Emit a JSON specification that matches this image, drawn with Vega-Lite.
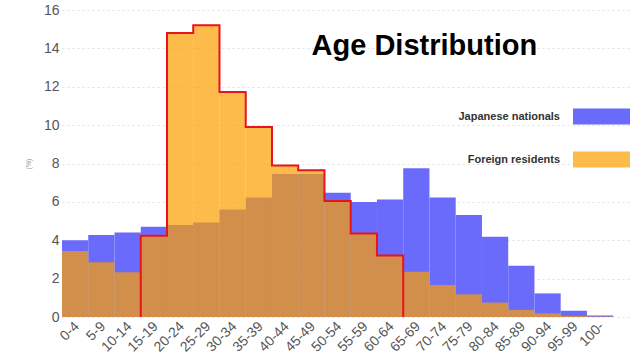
{
  "$schema": "https://vega.github.io/schema/vega-lite/v6.json",
  "width": 568,
  "height": 307,
  "autosize": "none",
  "padding": {"left": 62, "top": 10, "right": 10, "bottom": 43},
  "background": "white",
  "config": {"view": {"stroke": null}, "font": "Liberation Sans"},
  "datasets": {
    "dist": [
      {"age": "0-4", "group": "Japanese nationals", "pct": 4.0},
      {"age": "5-9", "group": "Japanese nationals", "pct": 4.28},
      {"age": "10-14", "group": "Japanese nationals", "pct": 4.4},
      {"age": "15-19", "group": "Japanese nationals", "pct": 4.71},
      {"age": "20-24", "group": "Japanese nationals", "pct": 4.79},
      {"age": "25-29", "group": "Japanese nationals", "pct": 4.93},
      {"age": "30-34", "group": "Japanese nationals", "pct": 5.6},
      {"age": "35-39", "group": "Japanese nationals", "pct": 6.23},
      {"age": "40-44", "group": "Japanese nationals", "pct": 7.45},
      {"age": "45-49", "group": "Japanese nationals", "pct": 7.45},
      {"age": "50-54", "group": "Japanese nationals", "pct": 6.47},
      {"age": "55-59", "group": "Japanese nationals", "pct": 6.0},
      {"age": "60-64", "group": "Japanese nationals", "pct": 6.13},
      {"age": "65-69", "group": "Japanese nationals", "pct": 7.75},
      {"age": "70-74", "group": "Japanese nationals", "pct": 6.23},
      {"age": "75-79", "group": "Japanese nationals", "pct": 5.31},
      {"age": "80-84", "group": "Japanese nationals", "pct": 4.18},
      {"age": "85-89", "group": "Japanese nationals", "pct": 2.67},
      {"age": "90-94", "group": "Japanese nationals", "pct": 1.23},
      {"age": "95-99", "group": "Japanese nationals", "pct": 0.33},
      {"age": "100-", "group": "Japanese nationals", "pct": 0.08},
      {"age": "0-4", "group": "Foreign residents", "pct": 3.44},
      {"age": "5-9", "group": "Foreign residents", "pct": 2.85},
      {"age": "10-14", "group": "Foreign residents", "pct": 2.33},
      {"age": "15-19", "group": "Foreign residents", "pct": 4.23},
      {"age": "20-24", "group": "Foreign residents", "pct": 14.8},
      {"age": "25-29", "group": "Foreign residents", "pct": 15.2},
      {"age": "30-34", "group": "Foreign residents", "pct": 11.73},
      {"age": "35-39", "group": "Foreign residents", "pct": 9.9},
      {"age": "40-44", "group": "Foreign residents", "pct": 7.9},
      {"age": "45-49", "group": "Foreign residents", "pct": 7.65},
      {"age": "50-54", "group": "Foreign residents", "pct": 6.04},
      {"age": "55-59", "group": "Foreign residents", "pct": 4.35},
      {"age": "60-64", "group": "Foreign residents", "pct": 3.2},
      {"age": "65-69", "group": "Foreign residents", "pct": 2.36},
      {"age": "70-74", "group": "Foreign residents", "pct": 1.67},
      {"age": "75-79", "group": "Foreign residents", "pct": 1.18},
      {"age": "80-84", "group": "Foreign residents", "pct": 0.75},
      {"age": "85-89", "group": "Foreign residents", "pct": 0.37},
      {"age": "90-94", "group": "Foreign residents", "pct": 0.19},
      {"age": "95-99", "group": "Foreign residents", "pct": 0.05},
      {"age": "100-", "group": "Foreign residents", "pct": 0.02}
    ],
    "outline": [
      {"age": "15-19", "pct": 0, "k": 0},
      {"age": "15-19", "pct": 4.23, "k": 1},
      {"age": "20-24", "pct": 14.8, "k": 2},
      {"age": "25-29", "pct": 15.2, "k": 3},
      {"age": "30-34", "pct": 11.73, "k": 4},
      {"age": "35-39", "pct": 9.9, "k": 5},
      {"age": "40-44", "pct": 7.9, "k": 6},
      {"age": "45-49", "pct": 7.65, "k": 7},
      {"age": "50-54", "pct": 6.04, "k": 8},
      {"age": "55-59", "pct": 4.35, "k": 9},
      {"age": "60-64", "pct": 3.2, "k": 10},
      {"age": "65-69", "pct": 0, "k": 11}
    ]
  },
  "encoding": {
    "x": {
      "field": "age",
      "type": "nominal",
      "sort": null,
      "scale": {
        "domain": ["0-4","5-9","10-14","15-19","20-24","25-29","30-34","35-39","40-44","45-49","50-54","55-59","60-64","65-69","70-74","75-79","80-84","85-89","90-94","95-99","100-"],
        "paddingInner": 0,
        "paddingOuter": 0.32,
        "align": 0
      },
      "axis": {
        "title": null,
        "labelAngle": -45,
        "labelFontSize": 14,
        "labelColor": "#555555",
        "ticks": false,
        "domain": false,
        "labelPadding": 2,
        "labelOffset": -3,
        "grid": false
      }
    },
    "y": {
      "field": "pct",
      "type": "quantitative",
      "stack": null,
      "scale": {"domain": [0, 16], "nice": false},
      "axis": {
        "title": "(%)",
        "titleFontSize": 7,
        "titleFontWeight": "normal",
        "titleColor": "#999999",
        "titlePadding": 12,
        "values": [0, 2, 4, 6, 8, 10, 12, 14, 16],
        "labelFontSize": 14,
        "labelColor": "#555555",
        "ticks": false,
        "domain": false,
        "labelPadding": 3,
        "gridColor": "#dde3e8",
        "gridDash": [2, 3]
      }
    }
  },
  "layer": [
    {
      "data": {"name": "dist"},
      "mark": {"type": "bar", "strokeWidth": 0},
      "encoding": {
        "color": {
          "field": "group",
          "type": "nominal",
          "scale": {"domain": ["Japanese nationals", "Foreign residents"], "range": ["#6b6bfb", "#fc9e00"]},
          "legend": {
            "title": null,
            "orient": "none",
            "legendX": 511,
            "legendY": 78,
            "symbolType": "M-1,-0.28h2v0.56h-2Z",
            "symbolSize": 3249,
            "symbolStrokeWidth": 0,
            "labelAlign": "right",
            "labelOffset": -70,
            "labelFontSize": 11,
            "labelFontWeight": "bold",
            "labelColor": "#333333",
            "rowPadding": 6,
            "labelLimit": 200
          }
        },
        "opacity": {
          "field": "group",
          "type": "nominal",
          "scale": {"domain": ["Japanese nationals", "Foreign residents"], "range": [1, 0.7]}
        }
      }
    },
    {
      "data": {"name": "outline"},
      "mark": {"type": "line", "interpolate": "step-after", "color": "#e8141c", "strokeWidth": 2},
      "encoding": {
        "x": {"field": "age", "type": "nominal", "sort": null, "bandPosition": 0},
        "order": {"field": "k", "type": "quantitative"}
      }
    },
    {
      "data": {"values": [{"label": "Age Distribution", "age": "65-69", "pct": 13.65}]},
      "mark": {"type": "text", "font": "Liberation Sans", "fontSize": 29, "fontWeight": "bold", "fill": "#000000", "align": "center", "baseline": "alphabetic", "dx": 8},
      "encoding": {
        "text": {"field": "label"}
      }
    }
  ]
}
